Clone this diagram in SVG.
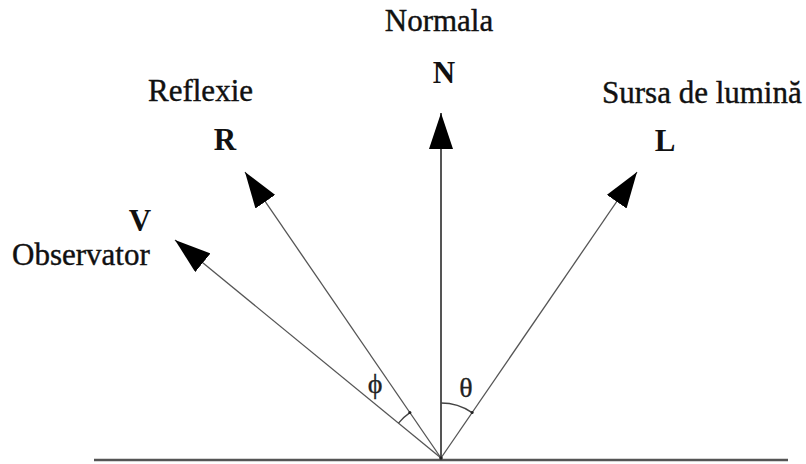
<svg xmlns="http://www.w3.org/2000/svg" width="806" height="464" viewBox="0 0 806 464">
<style>
.lbl{font-family:"Liberation Serif","Times New Roman",serif;font-size:31px;fill:#111;stroke:#111;stroke-width:0.4}
.vec{font-family:"Liberation Serif","Times New Roman",serif;font-size:31px;font-weight:bold;fill:#111}
.gr{font-family:"Liberation Serif","Times New Roman",serif;font-size:28px;fill:#222;stroke:#222;stroke-width:0.3}
.shaft{stroke:#555;stroke-width:1.3;fill:none}
.ang{stroke:#444;stroke-width:1.3;fill:none}
</style>
<defs>
<marker id="ah" viewBox="0 0 36 24" refX="36" refY="12" markerWidth="36" markerHeight="24" markerUnits="userSpaceOnUse" orient="auto">
<path d="M0,0 L36,12 L0,24 Z" fill="#000"/>
</marker>
</defs>
<g id="surface">
<line x1="94" y1="460" x2="788" y2="460" stroke="#555" stroke-width="2.5"/>
</g>
<g id="connectors">
<line id="vecN" x1="441" y1="458" x2="441" y2="113" stroke="#555" stroke-width="2" marker-end="url(#ah)"/>
<line id="vecR" class="shaft" x1="441" y1="458" x2="245" y2="172" marker-end="url(#ah)"/>
<line id="vecL" class="shaft" x1="441" y1="458" x2="637" y2="172" marker-end="url(#ah)"/>
<line id="vecV" class="shaft" x1="441" y1="458" x2="175" y2="240" marker-end="url(#ah)"/>
</g>
<g id="angle-theta">
<path class="ang" d="M441,403 A55,55 0 0 1 472.1,412.6"/>
<circle cx="472.1" cy="412.6" r="1.5" fill="#222"/>
<text class="gr" x="466" y="397" text-anchor="middle">θ</text>
</g>
<g id="angle-phi">
<path class="ang" d="M409.9,412.6 A55,55 0 0 0 398.5,423.1"/>
<circle cx="409.9" cy="412.6" r="1.5" fill="#222"/>
<text class="gr" x="375" y="393" text-anchor="middle">ϕ</text>
</g>
<circle cx="441" cy="458" r="1.8" fill="#222"/>
<g id="node-N">
<text class="lbl" x="439" y="31" text-anchor="middle">Normala</text>
<text class="vec" x="444" y="83" text-anchor="middle">N</text>
</g>
<g id="node-R">
<text class="lbl" x="148" y="101">Reflexie</text>
<text class="vec" x="225" y="150" text-anchor="middle">R</text>
</g>
<g id="node-L">
<text class="lbl" x="602" y="103">Sursa de lumină</text>
<text class="vec" x="665" y="151" text-anchor="middle">L</text>
</g>
<g id="node-V">
<text class="vec" x="140" y="231" text-anchor="middle">V</text>
<text class="lbl" x="12" y="265">Observator</text>
</g>
</svg>
